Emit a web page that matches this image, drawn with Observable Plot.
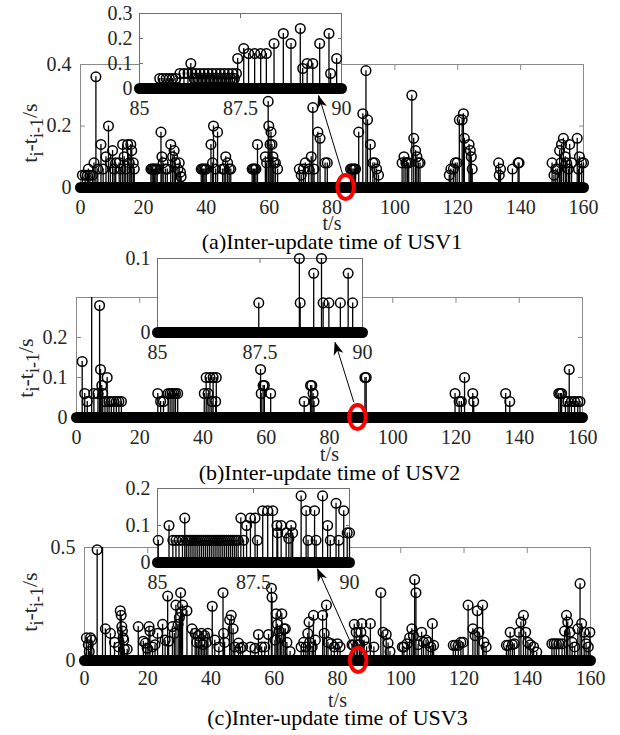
<!DOCTYPE html>
<html><head><meta charset="utf-8">
<script src="https://cdn.jsdelivr.net/npm/d3@7"></script>
<script src="https://cdn.jsdelivr.net/npm/@observablehq/plot@0.6"></script>
<style>
html,body{margin:0;padding:0;background:#fff;}
#fig{position:relative;width:620px;height:735px;overflow:hidden;font-family:"Liberation Serif","Times New Roman",serif;}
#fig svg{position:absolute;}
#fig svg text, #fig svg tspan{font-family:"Liberation Serif","Times New Roman",serif !important;font-variant:normal !important;}
</style></head><body><div id="fig"></div>
<script>
// ---------- tick labels / domains ----------
const mainTicksX = [0, 20, 40, 60, 80, 100, 120, 140, 160];
const mainSpan = [0, 160];
const insetTicksX = [85, 87.5, 90];
const insetSpan = [85, 90];
const yTicksA = [0, 0.2, 0.4];
const yTicksB = [0, 0.1, 0.2];
const yTicksC = [0, 0.5];
const yDomainA = [0, 0.4], yDomainB = [0, 0.3], yDomainC = [0, 0.5];
const insetTicksYA = [0, 0.1, 0.2, 0.3];
const insetTicksYB = [0, 0.1];
const insetTicksYC = [0, 0.1, 0.2];
const captions = ["(a)Inter-update time of USV1", "(b)Inter-update time of USV2", "(c)Inter-update time of USV3"];
const xLabel = "t/s";

// ---------- series: [t (s), t_i - t_{i-1} (s)] ----------
const usv1Main = [
[0.6,.04],[1.5,.04],[2.2,.04],[2.5,.06],[3.0,.04],[3.8,.04],[4.3,.08],[4.9,.36],[5.5,.06],[6.5,.14],[7.2,.06],[8.1,.10],[8.9,.20],[9.5,.08],[10.2,.12],[10.7,.06],[11.2,.08],[12.3,.08],[12.8,.06],[13.4,.14],[13.9,.10],[14.4,.06],[15.0,.14],[15.5,.08],[16.0,.14],[16.3,.12],[16.8,.08],[17.1,.06],
[22.4,.06],[22.8,.06],[23.2,.06],[23.6,.06],[24.0,.06],[24.4,.06],[25.6,.18],[25.9,.10],[26.3,.08],[27.0,.06],[27.6,.06],[28.7,.14],[29.3,.10],[29.8,.12],[30.2,.08],[31.0,.06],[31.4,.08],[31.8,.05],[32.0,.035],
[38.4,.06],[38.8,.06],[39.2,.06],[39.6,.06],[40.0,.06],[41.5,.14],[42.0,.08],[42.3,.20],[43.0,.06],[43.6,.18],[45.2,.06],[45.7,.06],[46.2,.10],[46.8,.08],[47.3,.06],[47.8,.06],
[54.6,.06],[55.0,.06],[55.4,.06],[55.8,.06],[56.3,.14],[58.8,.10],[59.2,.08],[59.7,.28],[59.9,.20],[60.3,.14],[60.6,.18],[60.9,.14],[61.2,.10],[61.5,.08],[62.0,.08],[62.7,.06],
[69.6,.06],[70.2,.04],[70.9,.06],[71.5,.08],[72.6,.06],[73.4,.10],[73.9,.26],[74.3,.06],[75.5,.18],[76.2,.16],[77.8,.08],[78.5,.08],
[85.9,.06],[86.3,.06],[86.7,.06],[87.1,.06],[87.5,.06],[88.5,.18],[89.8,.24],[90.8,.38],[91.3,.22],[92.2,.14],[93.0,.08],[93.6,.08],[94.2,.06],[94.8,.04],
[102.3,.08],[102.9,.10],[103.5,.08],[104.0,.08],[104.4,.08],[105.4,.30],[106.0,.16],[106.6,.12],[107.0,.10],[107.5,.08],[108.0,.08],
[117.3,.04],[117.8,.06],[118.6,.06],[119.2,.08],[119.8,.08],[120.5,.22],[121.4,.22],[121.8,.24],[122.1,.16],[123.6,.14],[124.0,.12],[124.3,.10],[124.6,.06],
[133.0,.08],[133.2,.04],[133.6,.06],[137.4,.06],[139.2,.08],[139.5,.08],
[150.0,.08],[150.6,.04],[151.2,.06],[151.8,.06],[152.4,.12],[152.8,.08],[153.0,.14],[153.6,.16],[154.2,.10],[154.6,.08],[155.2,.06],[155.6,.14],[156.2,.08],[158.0,.16],[158.4,.06],[158.7,.10],[159.4,.08],[160.0,.08]
];
const usv1Inset = [
[85.50,.04],[85.58,.04],[85.66,.04],[85.74,.04],[85.82,.04],[85.90,.04],
[86.0,.06],[86.1,.06],[86.2,.06],[86.3,.06],[86.4,.06],[86.5,.06],[86.6,.06],[86.7,.06],[86.8,.06],[86.9,.06],[87.0,.06],[87.1,.06],[87.2,.06],[87.3,.06],[87.4,.06],
[86.35,.04],[86.45,.04],[86.55,.04],[86.65,.04],[86.75,.04],[86.85,.04],[86.95,.04],[87.05,.04],[87.15,.04],[87.25,.04],[87.35,.04],
[86.27,.10],[87.43,.12],[87.58,.16],[87.70,.14],[87.85,.14],[88.00,.14],[88.14,.14],[88.33,.18],[88.56,.22],[88.75,.18],[88.98,.24],[89.04,.08],[89.15,.10],[89.29,.10],[89.46,.18],[89.69,.22],[89.73,.06],[89.88,.12]
];
const usv2Main = [
[1.8,.14],[2.6,.06],[3.4,.04],[4.8,.35],[5.5,.06],[6.8,.06],[7.3,.28],[7.6,.12],[8.0,.08],[8.3,.06],[9.0,.04],[9.7,.10],[10.3,.04],[11.0,.04],[11.8,.04],[12.6,.04],[13.4,.04],[14.2,.04],
[25.7,.06],[26.6,.04],[27.5,.04],[29.0,.06],[29.6,.06],[30.2,.06],[30.8,.06],[31.3,.06],[32.0,.06],
[40.4,.06],[41.0,.10],[41.6,.06],[42.2,.10],[42.8,.04],[43.2,.10],[44.0,.04],[44.2,.10],
[58.2,.12],[58.4,.06],[59.0,.08],[59.4,.08],[61.4,.06],
[72.0,.04],[74.0,.08],[74.4,.08],[74.8,.06],[75.1,.04],
[91.2,.10],[91.6,.10],
[119.7,.06],[121.0,.04],[121.7,.04],[122.7,.10],[125.3,.06],[125.6,.04],
[135.7,.06],[137.0,.04],
[152.5,.06],[153.0,.06],[153.4,.06],[154.6,.04],[155.4,.04],[155.8,.12],[156.5,.04],[157.5,.04],[158.5,.04],[159.2,.04]
];
const usv2Inset = [
[87.47,.04],[88.46,.10],[88.48,.04],[88.81,.08],[89.00,.10],[89.04,.04],[89.18,.04],[89.46,.04],[89.65,.08],[89.76,.04]
];
const usv3Main = [
[0.6,.10],[1.2,.07],[1.5,.04],[1.9,.10],[2.3,.09],[4.0,.49],[5.7,.60],[6.6,.14],[8.2,.12],[9.5,.08],
[10.8,.06],[11.3,.22],[11.6,.20],[11.8,.15],[12.0,.13],[12.2,.10],[12.4,.09],[12.6,.05],[13.5,.05],
[17.0,.15],[18.6,.085],[19.3,.077],[19.8,.054],[20.4,.15],[20.7,.13],[21.5,.06],[22.3,.07],[23.1,.12],[24.7,.16],[25.5,.09],[26.3,.285],[26.6,.085],[27.8,.15],[28.4,.12],[28.9,.245],[29.6,.16],[30.0,.19],[30.4,.30],[30.7,.215],[31.0,.245],[32.4,.22],
[34.0,.14],[35.0,.12],[35.5,.08],[36.0,.11],[36.5,.08],[37.0,.12],[37.5,.07],[38.0,.11],[38.5,.08],[39.0,.12],[40.4,.24],[41.2,.09],[42.5,.06],[43.8,.30],[44.0,.12],[44.3,.08],[45.9,.18],[46.4,.20],[47.0,.14],[47.5,.06],[48.7,.077],[49.3,.054],[50.0,.06],
[52.5,.06],[53.9,.054],[55.0,.115],[56.0,.06],[57.0,.06],[58.2,.115],[59.1,.32],[59.3,.28],[60.2,.09],[60.6,.207],[61.0,.16],[61.5,.13],[62.0,.10],[62.4,.207],[63.0,.14],[63.5,.14],[64.0,.08],[65.0,.04],
[68.5,.06],[69.3,.08],[70.0,.06],[70.6,.12],[71.0,.17],[71.2,.08],[72.0,.06],[72.4,.20],[73.0,.09],[75.3,.20],[75.8,.12],[76.5,.245],[77.0,.08],[78.0,.075],[79.0,.06],[80.0,.074],[80.8,.06],
[84.6,.07],[85.0,.067],[85.3,.16],[85.9,.125],[86.4,.07],[87.0,.07],[87.4,.125],[87.7,.163],[88.4,.09],[89.2,.06],[90.4,.163],[91.5,.06],[93.7,.30],[94.4,.125],[95.4,.115],[96.0,.077],[96.6,.04],
[100.5,.06],[101.0,.06],[102.0,.074],[102.8,.10],[103.5,.14],[104.0,.11],[104.4,.358],[104.8,.30],[105.5,.07],[106.6,.125],[107.2,.08],[108.0,.09],[108.7,.08],[109.5,.06],[110.0,.163],[110.4,.067],
[116.6,.067],[117.3,.067],[118.2,.067],[119.0,.08],[119.7,.08],[121.3,.245],[122.8,.14],[123.5,.11],[124.2,.22],[124.7,.125],[125.9,.245],[126.3,.08],[127.0,.06],
[133.4,.067],[134.0,.067],[134.6,.125],[135.3,.07],[135.9,.074],[137.4,.125],[138.0,.17],[138.8,.20],[139.5,.125],[140.2,.08],[141.0,.07],[142.0,.06],[143.0,.037],
[147.8,.074],[148.5,.074],[149.2,.074],[150.0,.074],[151.0,.074],[151.8,.13],[152.4,.20],[152.8,.17],[153.5,.125],[154.2,.08],[155.0,.06],[156.0,.14],[156.7,.34],[157.2,.163],[158.0,.125],[158.6,.074],[159.3,.06],[159.8,.125]
];
const usv3Inset = [
[85.02,.06],[85.30,.10],[85.40,.06],[85.48,.06],[85.56,.06],[85.65,.06],[85.71,.12],
[85.75,.06],[85.80,.06],[85.85,.06],[85.90,.06],[85.95,.06],[86.00,.06],[86.05,.06],[86.10,.06],[86.15,.06],[86.20,.06],[86.25,.06],[86.30,.06],[86.35,.06],[86.40,.06],
[86.45,.06],[86.50,.06],[86.55,.06],[86.60,.06],[86.65,.06],[86.70,.06],[86.75,.06],[86.80,.06],[86.85,.06],[86.90,.06],[86.95,.06],[87.00,.06],[87.05,.06],[87.10,.06],
[87.17,.12],[87.24,.06],[87.32,.10],[87.42,.12],[87.54,.12],[87.60,.06],[87.74,.14],[87.87,.14],[88.00,.14],[88.11,.10],[88.13,.08],[88.22,.10],[88.35,.08],[88.42,.065],[88.48,.10],[88.52,.08],
[88.74,.18],[88.87,.14],[88.92,.06],[89.09,.14],[89.13,.06],[89.30,.18],[89.43,.10],[89.50,.06],[89.65,.16],[89.72,.06],[89.85,.14],[89.94,.08],[90.00,.08]
];

// ---------- annotations (data units of each main axes) ----------
const zoomMarkA = {t: 84.5, v: 0}, zoomMarkB = {t: 89.0, v: 0}, zoomMarkC = {t: 86.7, v: 0};
const zoomArrowA = {x1: 83.5, y1: 0.039, x2: 75.8, y2: 0.299};
const zoomArrowB = {x1: 87.7, y1: 0.038, x2: 81.8, y2: 0.188};
const zoomArrowC = {x1: 84.6, y1: 0.066, x2: 73.7, y2: 0.406};

// ---------- drawing helpers ----------
const FONT = "Liberation Serif";
const AXIS_GRAY = "#8a8a8a", LABEL = "#262626";
const fmt = d3.format("~g");

function stems(pairs, ymax) {
  const data = pairs.map(([t, v]) => ({t, v}));
  return [
    Plot.ruleX(data, {x: "t", y1: 0, y2: d => Math.min(d.v, ymax), stroke: "#000", strokeWidth: 1.3}),
    Plot.dot(data.filter(d => d.v <= ymax), {x: "t", y: "v", r: 4.8, stroke: "#000", strokeWidth: 1.5, fill: "none"})
  ];
}
function zeroBand(span, w) {
  return Plot.line(span.map(t => ({t, v: 0})), {x: "t", y: "v", stroke: "#000", strokeWidth: w, strokeLinecap: "round"});
}
function boxAxes(xt, yt, frameStroke, tick, padX, padY) {
  return [
    Plot.axisX({ticks: xt, anchor: "bottom", tickSize: -tick, tickPadding: padX + tick, tickFormat: fmt, stroke: frameStroke, fill: LABEL, fontFamily: FONT, label: null}),
    Plot.axisX({ticks: xt, anchor: "top", tickSize: -tick, tickFormat: () => "", stroke: frameStroke, label: null}),
    Plot.axisY({ticks: yt, anchor: "left", tickSize: -tick, tickPadding: padY + tick, tickFormat: fmt, stroke: frameStroke, fill: LABEL, fontFamily: FONT, label: null}),
    Plot.axisY({ticks: yt, anchor: "right", tickSize: -tick, tickFormat: () => "", stroke: frameStroke, label: null})
  ];
}

function mainPanel(cfg) {
  const chart = Plot.plot({
    width: 620, height: cfg.height,
    marginLeft: cfg.ml, marginRight: cfg.mr, marginTop: cfg.mt, marginBottom: cfg.mb,
    style: {fontFamily: FONT, fontSize: "20px", background: "transparent", overflow: "visible"},
    x: {domain: [mainSpan[0], mainSpan[1]]},
    y: {domain: cfg.yDomain},
    marks: [
      Plot.frame({stroke: AXIS_GRAY}),
      ...boxAxes(mainTicksX, cfg.yTicks, AXIS_GRAY, 5, cfg.padX, 9),
      zeroBand(mainSpan, 11),
      ...stems(cfg.data, cfg.yDomain[1]),
      Plot.link([cfg.arrow], {x1: "x1", y1: "y1", x2: "x2", y2: "y2", stroke: "#000", strokeWidth: 1}),
      Plot.text([xLabel], {text: d => d, frameAnchor: "bottom", lineAnchor: "middle", dy: cfg.labelDy, fontSize: 20, fontFamily: FONT, fill: LABEL}),
      Plot.text([cfg.caption], {text: d => d, frameAnchor: "bottom", lineAnchor: "middle", dy: cfg.captionDy, fontSize: 22, fontFamily: FONT, fill: "#000"})
    ]
  });
  chart.style.left = "0px";
  chart.style.top = cfg.top + "px";
  const sx = chart.scale("x"), sy = chart.scale("y");
  const svg = d3.select(chart);
  // red zoom marker
  svg.append("ellipse")
    .attr("cx", sx.apply(cfg.mark.t)).attr("cy", sy.apply(cfg.mark.v))
    .attr("rx", 8.3).attr("ry", 12).attr("fill", "none")
    .attr("stroke", "#ff0000").attr("stroke-width", 4);
  // arrow head
  const x1 = sx.apply(cfg.arrow.x1), y1 = sy.apply(cfg.arrow.y1);
  const x2 = sx.apply(cfg.arrow.x2), y2 = sy.apply(cfg.arrow.y2);
  const L = Math.hypot(x2 - x1, y2 - y1), ux = (x2 - x1) / L, uy = (y2 - y1) / L, nx = -uy, ny = ux;
  const len = 13, half = 5;
  const bx = x2 - ux * len, by = y2 - uy * len;
  svg.append("path")
    .attr("d", `M${x2},${y2}L${bx + nx * half},${by + ny * half}L${x2 - ux * len * 0.72},${y2 - uy * len * 0.72}L${bx - nx * half},${by - ny * half}Z`)
    .attr("fill", "#000");
  // y label t_i - t_{i-1} /s
  const t = svg.append("text")
    .attr("transform", `translate(${cfg.ylabX},${cfg.ylabY}) rotate(-90)`)
    .attr("text-anchor", "middle").attr("font-family", FONT)
    .attr("font-size", 22).attr("fill", LABEL);
  t.append("tspan").text("t");
  t.append("tspan").attr("dy", 6).attr("font-size", 18).text("i");
  t.append("tspan").attr("dy", -6).text("-t");
  t.append("tspan").attr("dy", 6).attr("font-size", 18).text("i-1");
  t.append("tspan").attr("dy", -6).text("/s");
  return chart;
}

function insetPanel(cfg) {
  const chart = Plot.plot({
    width: cfg.width, height: cfg.height,
    marginLeft: cfg.ml, marginRight: cfg.mr, marginTop: cfg.mt, marginBottom: cfg.mb,
    style: {fontFamily: FONT, fontSize: "20px", background: "transparent", overflow: "visible"},
    x: {domain: [insetSpan[0], insetSpan[1]]},
    y: {domain: cfg.yDomain},
    marks: [
      Plot.frame({fill: "white", stroke: "#707070"}),
      ...boxAxes(insetTicksX, cfg.yTicks, "#707070", 4, 12.5, 7),
      zeroBand(insetSpan, 11),
      ...stems(cfg.data, cfg.yDomain[1])
    ]
  });
  chart.style.left = cfg.left + "px";
  chart.style.top = cfg.top + "px";
  return chart;
}

const fig = document.getElementById("fig");
// panel (a)
fig.appendChild(mainPanel({top: 0, height: 245, ml: 80, mr: 37, mt: 64, mb: 58, yDomain: yDomainA, yTicks: yTicksA,
  data: usv1Main, caption: captions[0], labelDy: 36, captionDy: 54, padX: 12, mark: zoomMarkA, arrow: zoomArrowA, ylabX: 37, ylabY: 133}));
fig.appendChild(insetPanel({left: 80, top: 0, width: 290, height: 125, ml: 59, mr: 29, mt: 13, mb: 37,
  yDomain: [0, 0.3], yTicks: insetTicksYA, data: usv1Inset}));
// panel (b)
fig.appendChild(mainPanel({top: 245, height: 235, ml: 76, mr: 38, mt: 52, mb: 63, yDomain: yDomainB, yTicks: yTicksB,
  data: usv2Main, caption: captions[1], labelDy: 37, captionDy: 55, padX: 12, mark: zoomMarkB, arrow: zoomArrowB, ylabX: 33, ylabY: 123}));
fig.appendChild(insetPanel({left: 90, top: 245, width: 300, height: 125, ml: 67, mr: 28, mt: 13, mb: 38,
  yDomain: [0, 0.1], yTicks: insetTicksYB, data: usv2Inset}));
// panel (c)
fig.appendChild(mainPanel({top: 480, height: 255, ml: 84, mr: 30, mt: 67, mb: 75, yDomain: yDomainC, yTicks: yTicksC,
  data: usv3Main, caption: captions[2], labelDy: 40, captionDy: 57, padX: 10, mark: zoomMarkC, arrow: zoomArrowC, ylabX: 37, ylabY: 122}));
fig.appendChild(insetPanel({left: 90, top: 475, width: 290, height: 125, ml: 67, mr: 31, mt: 13, mb: 38,
  yDomain: [0, 0.2], yTicks: insetTicksYC, data: usv3Inset}));
</script></body></html>
